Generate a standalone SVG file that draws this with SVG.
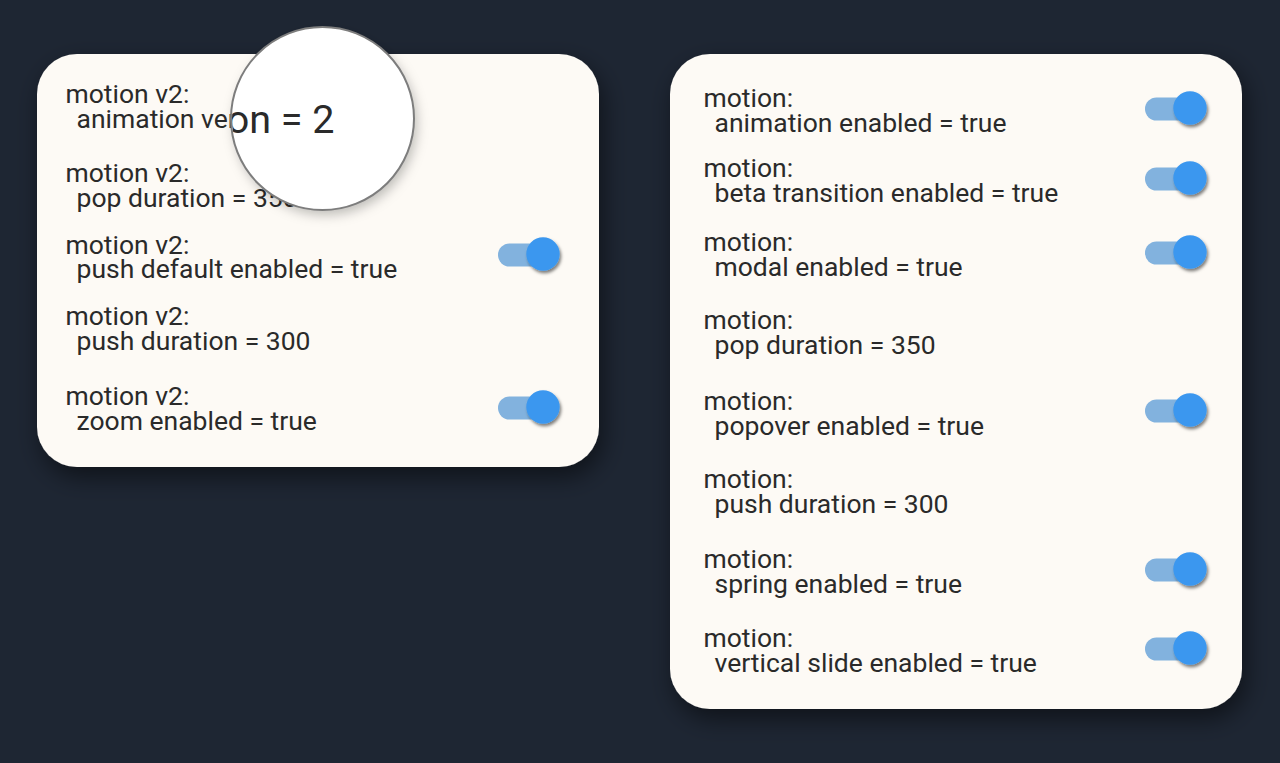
<svg xmlns="http://www.w3.org/2000/svg" width="1280" height="763" viewBox="0 0 1280 763">
  <style>
    .card { fill: #fdfaf5; }
    .t { font-family: Roboto, "Liberation Sans", sans-serif; font-size: 26.5px; fill: #2a2a2a; }
    .track { fill: #82b2de; }
    .knob { fill: #3a97ef; }
  </style>
  <defs>
    <filter id="cardShadow" x="-20%" y="-20%" width="140%" height="150%">
      <feDropShadow dx="4" dy="10" stdDeviation="12" flood-color="#000" flood-opacity="0.5"/>
    </filter>
    <filter id="knobShadow" x="-50%" y="-50%" width="200%" height="200%">
      <feDropShadow dx="1.5" dy="2.5" stdDeviation="1.6" flood-color="#000" flood-opacity="0.5"/>
    </filter>
    <filter id="lensShadow" x="-30%" y="-30%" width="160%" height="160%">
      <feDropShadow dx="3" dy="5" stdDeviation="6" flood-color="#000" flood-opacity="0.25"/>
    </filter>
    <clipPath id="lensClip">
      <circle cx="322.5" cy="118.5" r="90.5"/>
    </clipPath>
    <g id="toggle">
      <rect class="track" x="-45" y="-10.5" width="50" height="23" rx="11.5"/>
      <circle class="knob" cx="0" cy="0" r="16.7" filter="url(#knobShadow)"/>
    </g>
  </defs>

  <rect x="0" y="0" width="1280" height="763" fill="#1e2633"/>

  <!-- Left card -->
  <g id="card-left">
    <rect class="card" x="37" y="54" width="562" height="413" rx="40" filter="url(#cardShadow)"/>
    <g id="l-animation-version">
      <text class="t" x="65.5" y="103">motion v2:</text>
      <text class="t" x="76.5" y="128">animation version = 2</text>
    </g>
    <g id="l-pop-duration">
      <text class="t" x="65.5" y="182">motion v2:</text>
      <text class="t" x="76.5" y="207">pop duration = 350</text>
    </g>
    <g id="l-push-default">
      <text class="t" x="65.5" y="254">motion v2:</text>
      <text class="t" x="76.5" y="278">push default enabled = true</text>
      <use href="#toggle" x="543" y="254"/>
    </g>
    <g id="l-push-duration">
      <text class="t" x="65.5" y="325">motion v2:</text>
      <text class="t" x="76.5" y="350">push duration = 300</text>
    </g>
    <g id="l-zoom-enabled">
      <text class="t" x="65.5" y="405">motion v2:</text>
      <text class="t" x="76.5" y="430">zoom enabled = true</text>
      <use href="#toggle" x="543" y="407"/>
    </g>
  </g>

  <!-- Magnifier -->
  <g id="magnifier">
    <circle cx="322.5" cy="118.5" r="91.5" fill="#ffffff" filter="url(#lensShadow)"/>
    <g clip-path="url(#lensClip)">
      <text class="t" x="334.5" y="133" text-anchor="end" style="font-size:39.5px">animation version = 2</text>
    </g>
    <circle cx="322.5" cy="118.5" r="91.5" fill="none" stroke="#7d7d7d" stroke-width="2"/>
  </g>

  <!-- Right card -->
  <g id="card-right">
    <rect class="card" x="670" y="54" width="572" height="655" rx="40" filter="url(#cardShadow)"/>
    <g id="r-animation-enabled">
      <text class="t" x="703.5" y="107">motion:</text>
      <text class="t" x="714.5" y="132">animation enabled = true</text>
      <use href="#toggle" x="1190" y="108"/>
    </g>
    <g id="r-beta-transition">
      <text class="t" x="703.5" y="177">motion:</text>
      <text class="t" x="714.5" y="202">beta transition enabled = true</text>
      <use href="#toggle" x="1190" y="178"/>
    </g>
    <g id="r-modal-enabled">
      <text class="t" x="703.5" y="251">motion:</text>
      <text class="t" x="714.5" y="276">modal enabled = true</text>
      <use href="#toggle" x="1190" y="252"/>
    </g>
    <g id="r-pop-duration">
      <text class="t" x="703.5" y="329">motion:</text>
      <text class="t" x="714.5" y="354">pop duration = 350</text>
    </g>
    <g id="r-popover-enabled">
      <text class="t" x="703.5" y="410">motion:</text>
      <text class="t" x="714.5" y="435">popover enabled = true</text>
      <use href="#toggle" x="1190" y="410"/>
    </g>
    <g id="r-push-duration">
      <text class="t" x="703.5" y="488">motion:</text>
      <text class="t" x="714.5" y="513">push duration = 300</text>
    </g>
    <g id="r-spring-enabled">
      <text class="t" x="703.5" y="568">motion:</text>
      <text class="t" x="714.5" y="593">spring enabled = true</text>
      <use href="#toggle" x="1190" y="569"/>
    </g>
    <g id="r-vertical-slide">
      <text class="t" x="703.5" y="647">motion:</text>
      <text class="t" x="714.5" y="672">vertical slide enabled = true</text>
      <use href="#toggle" x="1190" y="648"/>
    </g>
  </g>

  <g id="connectors"/>
</svg>
